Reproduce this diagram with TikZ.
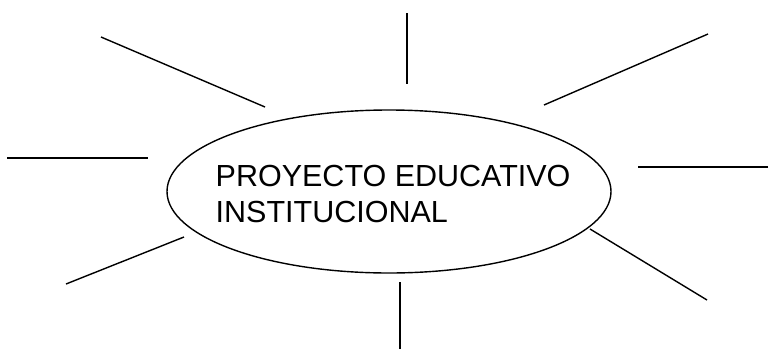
\documentclass[tikz,border=0pt]{standalone}
\usepackage{fontspec}
\setmainfont{Liberation Sans}
\usetikzlibrary{shapes.geometric}

\begin{document}
\begin{tikzpicture}[x=1pt, y=-1pt, line width=1.4pt,
    main/.style = {draw, ellipse, inner sep=0pt, minimum width=444pt, minimum height=163pt},
    label/.style = {inner sep=0pt, anchor=north west, align=left, font=\fontsize{30.5}{36}\selectfont},
    ray/.style = {line width=1.4pt}]
    \useasboundingbox (0,0) rectangle (769,349);
    \node[main] (pei) at (389,191.5) {};
    \node[label] (peitext) at (215,164.5) {PROYECTO EDUCATIVO\\INSTITUCIONAL};
    % outer ends of the rays
    \coordinate (a1) at (101,37);  \coordinate (b1) at (265,107);
    \coordinate (a2) at (407,13);  \coordinate (b2) at (407,84);
    \coordinate (a3) at (708,34);  \coordinate (b3) at (544,105);
    \coordinate (a4) at (7,158);   \coordinate (b4) at (148,158);
    \coordinate (a5) at (768,167); \coordinate (b5) at (638,167);
    \coordinate (a6) at (66,284);  \coordinate (b6) at (184,237);
    \coordinate (a7) at (400,349); \coordinate (b7) at (400,282);
    \coordinate (a8) at (707,300); \coordinate (b8) at (590,229);
    \foreach \i in {1,...,8}
        \draw[ray] (a\i) -- (b\i);
\end{tikzpicture}
\end{document}
